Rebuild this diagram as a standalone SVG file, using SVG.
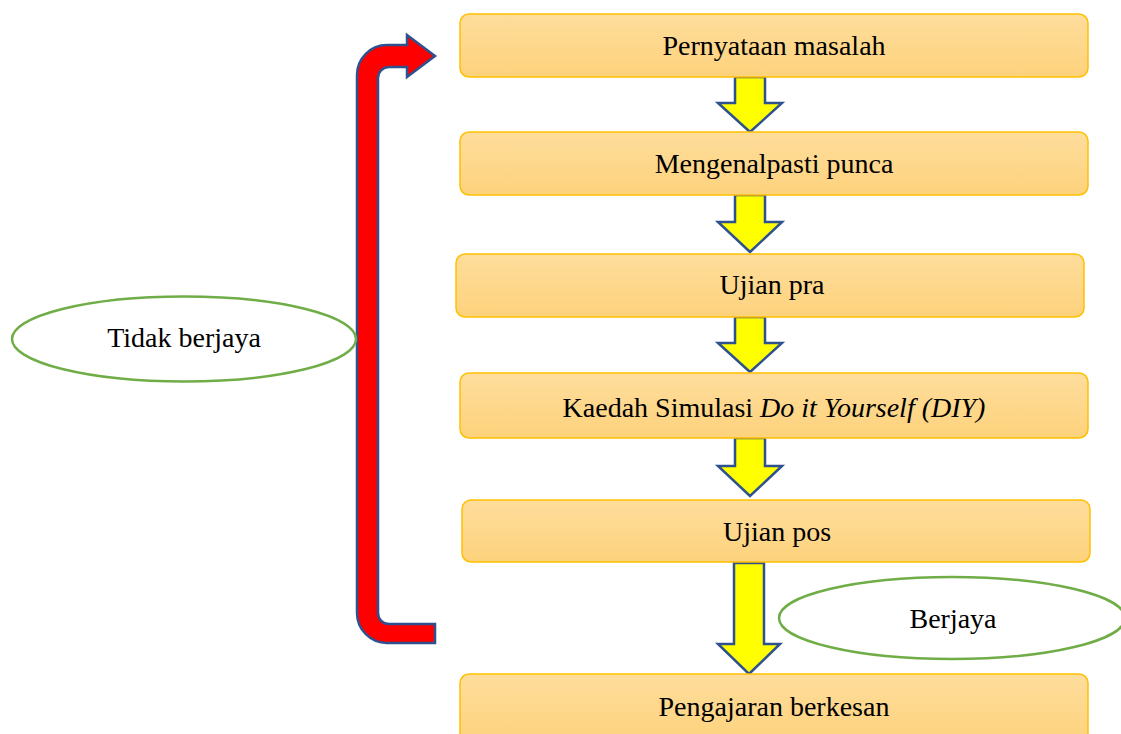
<svg xmlns="http://www.w3.org/2000/svg" width="1121" height="734" viewBox="0 0 1121 734">
<defs>
<linearGradient id="boxg" x1="0" y1="0" x2="0" y2="1">
<stop offset="0" stop-color="#FEDD9C"/>
<stop offset="1" stop-color="#FDD27C"/>
</linearGradient>
<style>
.box{fill:url(#boxg);stroke:#FFC000;stroke-width:1.5}
.t{font-family:"Liberation Serif","Times New Roman",serif;font-size:28px;fill:#000;text-anchor:middle}
.ya{fill:#FFFF00;stroke:#2F528F;stroke-width:2.5;stroke-linejoin:miter}
.ell{fill:#fff;stroke:#70AD47;stroke-width:2.5}
</style>
</defs>
<rect width="1121" height="734" fill="#fff"/>
<g id="connectors">
<path class="ya" d="M735,77 L765,77 L765,103 L782,103 L750,132 L718,103 L735,103 Z"/>
<path class="ya" d="M735,195 L765,195 L765,222 L782,222 L750,252 L718,222 L735,222 Z"/>
<path class="ya" d="M735,317 L765,317 L765,343 L782,343 L750,372 L718,343 L735,343 Z"/>
<path class="ya" d="M735,438 L765,438 L765,466 L782,466 L750,496 L718,466 L735,466 Z"/>
<path class="ya" d="M734,563 L764,563 L764,644 L780,644 L749,674 L718,644 L734,644 Z"/>
<path id="loop" d="M435,643 L387,643 A30,30 0 0 1 357,613 L357,75 A30,30 0 0 1 387,45 L407,45 L407,35 L435,56 L407,77 L407,67 L389,67 A11,11 0 0 0 378,78 L378,613 A11,11 0 0 0 389,624 L435,624 Z" fill="#FF0000" stroke="#2F528F" stroke-width="2.5"/>
</g>
<g id="n1"><rect class="box" x="460" y="14" width="628" height="63" rx="9"/><text class="t" x="774" y="55">Pernyataan masalah</text></g>
<g id="n2"><rect class="box" x="460" y="132" width="628" height="63" rx="9"/><text class="t" x="774" y="173">Mengenalpasti punca</text></g>
<g id="n3"><rect class="box" x="456" y="254" width="628" height="63" rx="9"/><text class="t" x="772" y="294">Ujian pra</text></g>
<g id="n4"><rect class="box" x="460" y="373" width="628" height="65" rx="9"/><text class="t" x="774" y="417">Kaedah Simulasi <tspan font-style="italic">Do it Yourself (DIY)</tspan></text></g>
<g id="n5"><rect class="box" x="462" y="500" width="628" height="62" rx="9"/><text class="t" x="777" y="541">Ujian pos</text></g>
<g id="n6"><rect class="box" x="460" y="674" width="628" height="70" rx="9"/><text class="t" x="774" y="716">Pengajaran berkesan</text></g>
<g id="e1"><ellipse class="ell" cx="184" cy="339" rx="172" ry="42.5"/><text class="t" x="184" y="347">Tidak berjaya</text></g>
<g id="e2"><ellipse class="ell" cx="952" cy="618" rx="173" ry="41"/><text class="t" x="953" y="628">Berjaya</text></g>
</svg>
